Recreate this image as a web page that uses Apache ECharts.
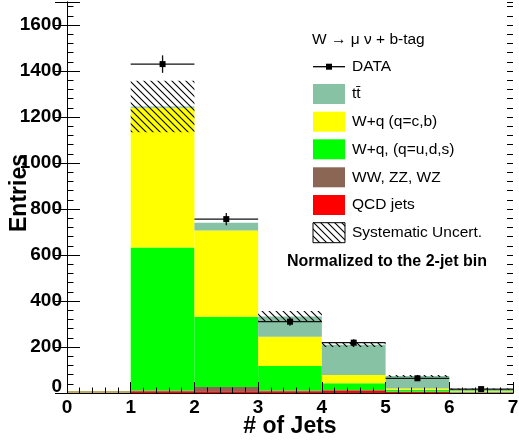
<!DOCTYPE html>
<html>
<head>
<meta charset="utf-8">
<script src="https://cdn.jsdelivr.net/npm/echarts@6/dist/echarts.min.js"></script>
<style>
  html, body { margin: 0; padding: 0; background: #fff; }
  #chart { width: 519px; height: 445px; }
</style>
</head>
<body>
<div id="chart"></div>
<script>
// Jet multiplicity, W -> mu nu + b-tag selection
const binLow = [0, 1, 2, 3, 4, 5, 6];
const xTicks = [0, 1, 2, 3, 4, 5, 6, 7];
const yTicks = [0, 200, 400, 600, 800, 1000, 1200, 1400, 1600];

const qcd      = [0, 8, 8, 8, 10, 5, 2];
const diboson  = [0, 3, 18, 3, 3, 1, 1];
const wLight   = [0, 622, 306, 106, 29, 7, 3];
const wHeavy   = [0, 607, 374, 128, 36, 7, 3];
const ttbar    = [0, 6, 34, 88, 132, 54, 8];
const systUnc  = [0, 112, 0, 23, 10, 4, 3];

const dataVal  = [0, 1430, 756, 310, 219, 64, 17];
const dataErr  = [0, 38, 27, 18, 15, 8, 4];

const FONT = 'Liberation Sans';
const COLORS = {
  qcd: '#ff0000',
  diboson: '#8b6655',
  wLight: '#00ff00',
  wHeavy: '#ffff00',
  ttbar: '#88c2a5'
};

// diagonal hatch tile for the systematic band
function hatchCanvas() {
  const s = 7;
  const c = document.createElement('canvas');
  c.width = s; c.height = s;
  const g = c.getContext('2d');
  g.strokeStyle = '#000';
  g.lineWidth = 1.1;
  g.beginPath();
  g.moveTo(-1, -1); g.lineTo(s + 1, s + 1);
  g.moveTo(-1, s - 1); g.lineTo(1, s + 1);
  g.moveTo(s - 1, -1); g.lineTo(s + 1, 1);
  g.stroke();
  return c;
}
const hatch = hatchCanvas();

// stacked components, bottom to top
const stackDefs = [
  { name: 'QCD jets', values: qcd, color: COLORS.qcd },
  { name: 'WW, ZZ, WZ', values: diboson, color: COLORS.diboson },
  { name: 'W+q, (q=u,d,s)', values: wLight, color: COLORS.wLight },
  { name: 'W+q (q=c,b)', values: wHeavy, color: COLORS.wHeavy },
  { name: 'tt', values: ttbar, color: COLORS.ttbar }
];

const base = binLow.map(() => 0);
const stackSeries = stackDefs.map(def => {
  const rows = binLow.map((lo, i) => {
    const y0 = base[i];
    const y1 = base[i] + def.values[i];
    base[i] = y1;
    return [lo, lo + 1, y0, y1];
  });
  return {
    type: 'custom',
    name: def.name,
    xAxisIndex: 0,
    yAxisIndex: 0,
    z: 2,
    silent: true,
    data: rows,
    renderItem: function (params, api) {
      const p0 = api.coord([api.value(0), api.value(2)]);
      const p1 = api.coord([api.value(1), api.value(3)]);
      const h = p0[1] - p1[1];
      if (h <= 0) return null;
      return {
        type: 'rect',
        shape: { x: p0[0], y: p1[1], width: p1[0] - p0[0], height: h },
        style: { fill: def.color }
      };
    }
  };
});
const mcTotal = base.slice();

// empty bins: outline at zero
const emptySeries = {
  type: 'custom',
  name: 'empty',
  z: 3,
  silent: true,
  data: binLow.map((lo, i) => [lo, lo + 1, mcTotal[i]]),
  renderItem: function (params, api) {
    if (api.value(2) > 0) return null;
    const p0 = api.coord([api.value(0), 0]);
    const p1 = api.coord([api.value(1), 0]);
    return {
      type: 'line',
      shape: { x1: p0[0], y1: p0[1] - 1, x2: p1[0], y2: p1[1] - 1 },
      style: { stroke: '#a88f2a', lineWidth: 1.5 }
    };
  }
};

const systSeries = {
  type: 'custom',
  name: 'Systematic Uncert.',
  z: 4,
  silent: true,
  data: binLow.map((lo, i) => [lo, lo + 1, mcTotal[i] - systUnc[i], mcTotal[i] + systUnc[i]]),
  renderItem: function (params, api) {
    const p0 = api.coord([api.value(0), api.value(2)]);
    const p1 = api.coord([api.value(1), api.value(3)]);
    const h = p0[1] - p1[1];
    if (h <= 0) return null;
    return {
      type: 'rect',
      shape: { x: p0[0], y: p1[1], width: p1[0] - p0[0], height: h },
      style: { fill: { image: hatch, repeat: 'repeat' } }
    };
  }
};

const dataSeries = {
  type: 'custom',
  name: 'DATA',
  z: 6,
  silent: true,
  data: binLow.map((lo, i) => [lo, lo + 1, dataVal[i], dataErr[i]]),
  renderItem: function (params, api) {
    const v = api.value(2);
    if (v <= 0) return null;
    const e = api.value(3);
    const xl = api.coord([api.value(0), v]);
    const xr = api.coord([api.value(1), v]);
    const xc = (xl[0] + xr[0]) / 2;
    const top = api.coord([api.value(0), v + e])[1];
    const bot = api.coord([api.value(0), v - e])[1];
    return {
      type: 'group',
      children: [
        { type: 'line', shape: { x1: xl[0], y1: xl[1], x2: xr[0], y2: xr[1] },
          style: { stroke: '#111', lineWidth: 1.3 } },
        { type: 'line', shape: { x1: xc, y1: top, x2: xc, y2: bot },
          style: { stroke: '#111', lineWidth: 1.3 } },
        { type: 'rect', shape: { x: xc - 3, y: xl[1] - 3, width: 6, height: 6 },
          style: { fill: '#000' } }
      ]
    };
  }
};

// legend, drawn as graphics
const LX = 313, TX = 352;
const legendRows = [
  { label: 'tt\u0304', color: COLORS.ttbar, y: 94 },
  { label: 'W+q (q=c,b)', color: COLORS.wHeavy, y: 121.7 },
  { label: 'W+q, (q=u,d,s)', color: COLORS.wLight, y: 149.3 },
  { label: 'WW, ZZ, WZ', color: COLORS.diboson, y: 177.3 },
  { label: 'QCD jets', color: COLORS.qcd, y: 205 }
];
const legendText = (text, x, y, extra) => Object.assign({
  type: 'text', x: x, y: y, z: 20,
  style: { text: text, fill: '#000', font: '15.5px "' + FONT + '"', textVerticalAlign: 'middle' }
}, extra || {});

const graphics = [
  legendText('W \u2192 \u03bc \u03bd + b-tag', 312, 40),
  { type: 'line', z: 20, shape: { x1: LX, y1: 66.7, x2: LX + 32, y2: 66.7 }, style: { stroke: '#000', lineWidth: 1.3 } },
  { type: 'rect', z: 20, shape: { x: LX + 13, y: 63.7, width: 6, height: 6 }, style: { fill: '#000' } },
  legendText('DATA', TX, 66.7)
];
legendRows.forEach(r => {
  graphics.push({ type: 'rect', z: 20, shape: { x: LX, y: r.y - 10, width: 32, height: 20 }, style: { fill: r.color } });
  graphics.push(legendText(r.label, TX, r.y));
});
graphics.push({ type: 'rect', z: 20, shape: { x: LX, y: 222.7, width: 32, height: 20 },
  style: { fill: { image: hatch, repeat: 'repeat' }, stroke: '#000', lineWidth: 1 } });
graphics.push(legendText('Systematic Uncert.', TX, 232.7));
graphics.push({
  type: 'text', x: 287, y: 261.7, z: 20,
  style: { text: 'Normalized to the 2-jet bin', fill: '#000', font: 'bold 16px "' + FONT + '"', textVerticalAlign: 'middle' }
});

const tickFont = { fontFamily: FONT, fontWeight: 'bold', fontSize: 19, color: '#000' };
const frameLine = { show: true, lineStyle: { color: '#000', width: 1 } };
const xMax = xTicks[xTicks.length - 1];
const yMax = 1700;

const option = {
  animation: false,
  backgroundColor: '#fff',
  grid: { left: 67, right: 6, top: 2, bottom: 52, containLabel: false, outerBoundsMode: 'none' },
  xAxis: [
    {
      type: 'value', position: 'bottom', min: xTicks[0], max: xMax, interval: 1, z: 10,
      axisLine: frameLine,
      axisTick: { show: true, inside: true, length: 11, lineStyle: { color: '#000' } },
      axisLabel: Object.assign({ margin: 5 }, tickFont),
      splitLine: { show: false },
      name: '# of Jets', nameLocation: 'middle', nameGap: 22, nameMoveOverlap: false,
      nameTextStyle: { fontFamily: FONT, fontWeight: 'bold', fontSize: 23, color: '#000' }
    },
    {
      type: 'value', position: 'bottom', min: 0, max: xMax, interval: 0.2, z: 10,
      axisLine: { show: false },
      axisTick: { show: true, inside: true, length: 5.5, lineStyle: { color: '#000' } },
      axisLabel: { show: false }, splitLine: { show: false }
    },
    {
      type: 'value', position: 'top', min: 0, max: xMax, z: 10,
      axisLine: frameLine, axisTick: { show: false }, axisLabel: { show: false }, splitLine: { show: false }
    }
  ],
  yAxis: [
    {
      type: 'value', position: 'left', min: 0, max: yMax, interval: 200, z: 10,
      axisLine: frameLine,
      axisTick: { show: true, inside: true, length: 13, lineStyle: { color: '#000' } },
      axisLabel: Object.assign({
        margin: 5,
        formatter: function (v) {
          if (yTicks.indexOf(v) < 0) return '';
          return v === 0 ? '{z|0}' : String(v);
        },
        rich: { z: Object.assign({ padding: [0, 0, 12, 0] }, tickFont) }
      }, tickFont),
      splitLine: { show: false },
      name: 'Entries', nameLocation: 'middle', nameGap: 36, nameMoveOverlap: false,
      nameTextStyle: { fontFamily: FONT, fontWeight: 'bold', fontSize: 23, color: '#000', padding: [0, 0, 0, 9] }
    },
    {
      type: 'value', position: 'left', min: 0, max: yMax, interval: 40, z: 10,
      axisLine: { show: false },
      axisTick: { show: true, inside: true, length: 6.5, lineStyle: { color: '#000' } },
      axisLabel: { show: false }, splitLine: { show: false }
    },
    {
      type: 'value', position: 'right', min: 0, max: yMax, interval: 200, z: 10,
      axisLine: frameLine,
      axisTick: { show: true, inside: true, length: 12, lineStyle: { color: '#000' } },
      axisLabel: { show: false }, splitLine: { show: false }
    },
    {
      type: 'value', position: 'right', min: 0, max: yMax, interval: 40, z: 10,
      axisLine: { show: false },
      axisTick: { show: true, inside: true, length: 6, lineStyle: { color: '#000' } },
      axisLabel: { show: false }, splitLine: { show: false }
    }
  ],
  graphic: graphics,
  series: stackSeries.concat([emptySeries, systSeries, dataSeries])
};

const chart = echarts.init(document.getElementById('chart'), null, { renderer: 'canvas' });
chart.setOption(option);
</script>
</body>
</html>
